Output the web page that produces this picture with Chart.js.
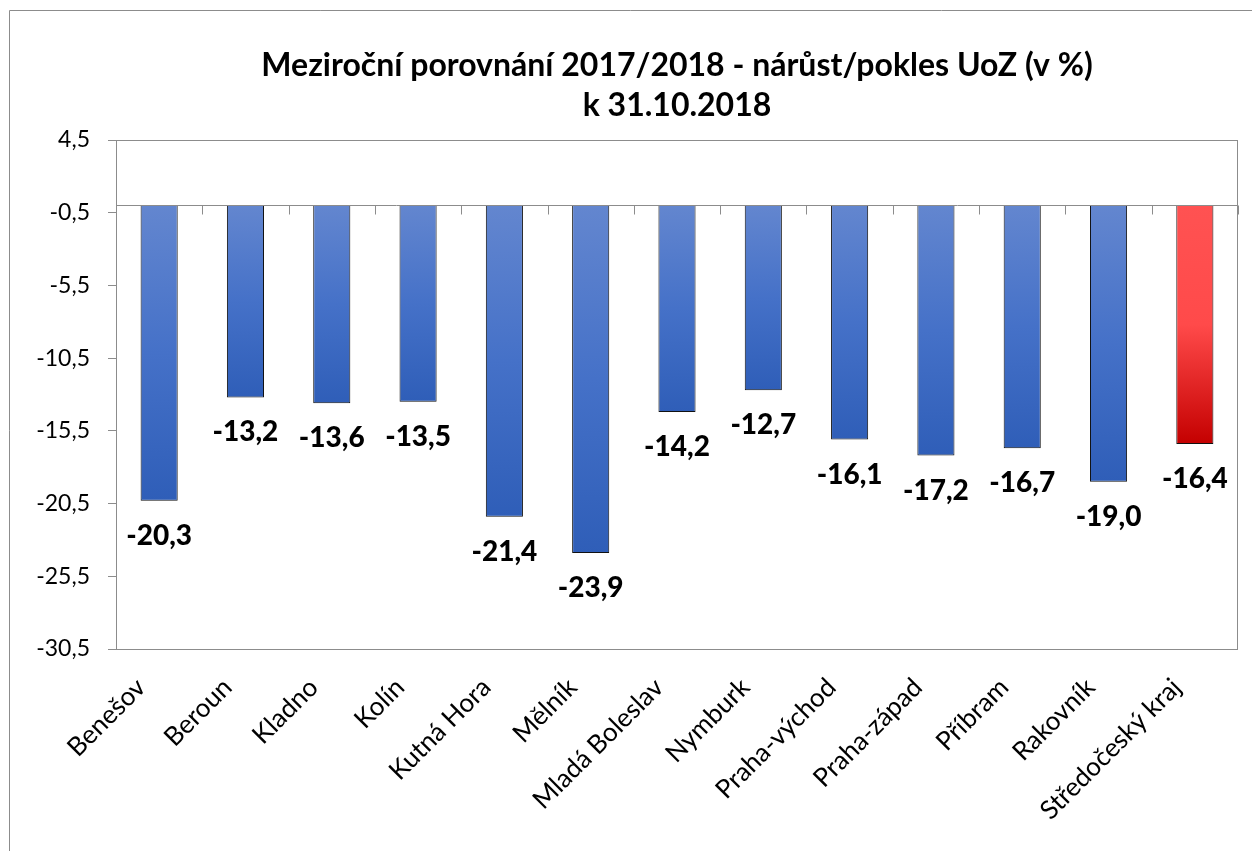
<!DOCTYPE html>
<html>
<head>
<meta charset="utf-8">
<script src="https://cdn.jsdelivr.net/npm/chart.js@4.4.1/dist/chart.umd.min.js"></script>
<style>
  html, body { margin: 0; padding: 0; background: #fff; }
  #c { display: block; }
</style>
</head>
<body>
<canvas id="c" width="1252" height="851"></canvas>
<script>
const categories = ["Benešov", "Beroun", "Kladno", "Kolín", "Kutná Hora", "Mělník", "Mladá Boleslav", "Nymburk", "Praha-východ", "Praha-západ", "Příbram", "Rakovník", "Středočeský kraj"];
const values = [-20.3, -13.2, -13.6, -13.5, -21.4, -23.9, -14.2, -12.7, -16.1, -17.2, -16.7, -19.0, -16.4];
const highlighted = ["Středočeský kraj"];
const yTicks = [4.5, -0.5, -5.5, -10.5, -15.5, -20.5, -25.5, -30.5];
const titleLines = ["Meziroční porovnání 2017/2018 - nárůst/pokles UoZ (v %)", "k 31.10.2018"];

const FONT = "Lato, 'Open Sans', sans-serif";
const fmt = v => v.toFixed(1).replace('.', ',');

function barFill(ctx) {
  const chart = ctx.chart;
  const y = chart.scales.y;
  const isRed = ctx.dataIndex !== undefined && highlighted.includes(categories[ctx.dataIndex]);
  if (!y || ctx.dataIndex === undefined) return isRed ? '#F03A3A' : '#4472C4';
  const top = y.getPixelForValue(0);
  const bot = y.getPixelForValue(values[ctx.dataIndex]);
  if (!isFinite(top) || !isFinite(bot) || top === bot) return isRed ? '#F03A3A' : '#4472C4';
  const g = chart.ctx.createLinearGradient(0, top, 0, bot);
  if (isRed) {
    g.addColorStop(0, '#FF5252');
    g.addColorStop(0.5, '#FF4A4A');
    g.addColorStop(0.8, '#DC1E1E');
    g.addColorStop(1, '#C40000');
  } else {
    g.addColorStop(0, '#6386CF');
    g.addColorStop(0.5, '#4571C8');
    g.addColorStop(1, '#2F5EB8');
  }
  return g;
}

const decor = {
  id: 'decor',
  beforeDraw(chart) {
    const c = chart.ctx;
    c.save();
    c.strokeStyle = '#8C8C8C';
    c.lineWidth = 1;
    c.beginPath();
    c.moveTo(9.5, 851);
    c.lineTo(9.5, 10.5);
    c.lineTo(1252, 10.5);
    c.stroke();
    c.restore();
  },
  afterDatasetsDraw(chart) {
    const c = chart.ctx;
    const a = chart.chartArea;
    const x = chart.scales.x, y = chart.scales.y;
    c.save();
    c.strokeStyle = '#8C8C8C';
    c.lineWidth = 1;
    c.strokeRect(Math.round(a.left) + 0.5, Math.round(a.top) + 0.5, Math.round(a.right - a.left) - 1, Math.round(a.bottom - a.top));
    const y0 = Math.round(y.getPixelForValue(0)) + 0.5;
    c.beginPath();
    c.moveTo(a.left, y0);
    c.lineTo(a.right, y0);
    const half = (x.getPixelForValue(1) - x.getPixelForValue(0)) / 2;
    for (let i = 0; i <= categories.length; i++) {
      const px = Math.round(x.getPixelForValue(i) - half) + 0.5;
      c.moveTo(px, y0);
      c.lineTo(px, y0 + 9);
    }
    c.stroke();
    c.fillStyle = '#000';
    c.font = "900 28px " + FONT;
    c.textAlign = 'center';
    c.textBaseline = 'middle';
    chart.getDatasetMeta(0).data.forEach((el, i) => {
      c.fillText(fmt(values[i]), el.x, el.y + 35);
    });
    c.restore();
  }
};

new Chart(document.getElementById('c'), {
  type: 'bar',
  data: {
    labels: categories,
    datasets: [{
      data: values,
      backgroundColor: barFill,
      borderColor: '#111',
      borderWidth: 1,
      borderSkipped: 'start',
      barPercentage: 0.43,
      categoryPercentage: 1
    }]
  },
  plugins: [decor],
  options: {
    responsive: false,
    devicePixelRatio: 1,
    animation: false,
    layout: { padding: { left: 0, right: 14, top: 0, bottom: 0 } },
    plugins: {
      legend: { display: false },
      tooltip: { enabled: false },
      title: {
        display: true,
        text: titleLines,
        fullSize: false,
        color: '#000',
        font: { family: FONT, size: 32, weight: 'bold', lineHeight: 1.25 },
        padding: { top: 46, bottom: 14 }
      }
    },
    scales: {
      x: {
        grid: { display: false },
        border: { display: false },
        ticks: {
          color: '#000',
          font: { family: FONT, size: 26 },
          minRotation: 45,
          maxRotation: 45,
          padding: 15,
          labelOffset: -18,
          autoSkip: false
        },
        afterFit(scale) { scale.height = 202; }
      },
      y: {
        min: -30.5,
        max: 4.5,
        afterBuildTicks(scale) { scale.ticks = yTicks.map(v => ({ value: v })); },
        grid: { display: true, drawOnChartArea: false, drawTicks: true, tickLength: 8, color: '#8C8C8C' },
        border: { display: false },
        ticks: {
          color: '#000',
          font: { family: FONT, size: 23 },
          padding: 18,
          callback: v => fmt(v)
        },
        afterFit(scale) { scale.width = 116; }
      }
    }
  }
});
</script>
</body>
</html>
